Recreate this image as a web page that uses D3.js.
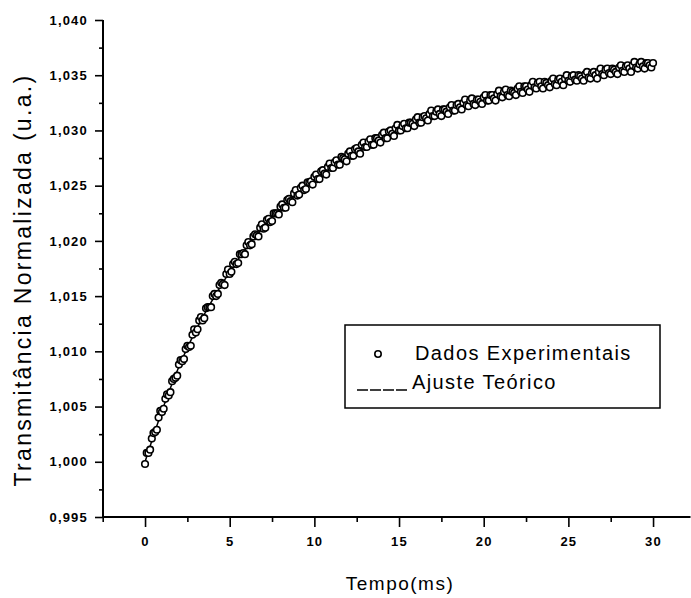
<!DOCTYPE html>
<html>
<head>
<meta charset="utf-8">
<script src="https://cdn.jsdelivr.net/npm/d3@7/dist/d3.min.js"></script>
<style>
  html, body { margin: 0; padding: 0; background: #fff; }
  svg { display: block; }
  text { fill: #000; }
</style>
</head>
<body>
<svg id="chart" width="691" height="598"></svg>
<script>
// ---- data ----
const timeMs = [
  0.0,0.1,0.2,0.3,0.4,0.5,0.6,0.7,0.8,0.9,
  1.0,1.1,1.2,1.3,1.4,1.5,1.6,1.7,1.8,1.9,
  2.0,2.1,2.2,2.3,2.4,2.5,2.6,2.7,2.8,2.9,
  3.0,3.1,3.2,3.3,3.4,3.5,3.6,3.7,3.8,3.9,
  4.0,4.1,4.2,4.3,4.4,4.5,4.6,4.7,4.8,4.9,
  5.0,5.1,5.2,5.3,5.4,5.5,5.6,5.7,5.8,5.9,
  6.0,6.1,6.2,6.3,6.4,6.5,6.6,6.7,6.8,6.9,
  7.0,7.1,7.2,7.3,7.4,7.5,7.6,7.7,7.8,7.9,
  8.0,8.1,8.2,8.3,8.4,8.5,8.6,8.7,8.8,8.9,
  9.0,9.1,9.2,9.3,9.4,9.5,9.6,9.7,9.8,9.9,
  10.0,10.1,10.2,10.3,10.4,10.5,10.6,10.7,10.8,10.9,
  11.0,11.1,11.2,11.3,11.4,11.5,11.6,11.7,11.8,11.9,
  12.0,12.1,12.2,12.3,12.4,12.5,12.6,12.7,12.8,12.9,
  13.0,13.1,13.2,13.3,13.4,13.5,13.6,13.7,13.8,13.9,
  14.0,14.1,14.2,14.3,14.4,14.5,14.6,14.7,14.8,14.9,
  15.0,15.1,15.2,15.3,15.4,15.5,15.6,15.7,15.8,15.9,
  16.0,16.1,16.2,16.3,16.4,16.5,16.6,16.7,16.8,16.9,
  17.0,17.1,17.2,17.3,17.4,17.5,17.6,17.7,17.8,17.9,
  18.0,18.1,18.2,18.3,18.4,18.5,18.6,18.7,18.8,18.9,
  19.0,19.1,19.2,19.3,19.4,19.5,19.6,19.7,19.8,19.9,
  20.0,20.1,20.2,20.3,20.4,20.5,20.6,20.7,20.8,20.9,
  21.0,21.1,21.2,21.3,21.4,21.5,21.6,21.7,21.8,21.9,
  22.0,22.1,22.2,22.3,22.4,22.5,22.6,22.7,22.8,22.9,
  23.0,23.1,23.2,23.3,23.4,23.5,23.6,23.7,23.8,23.9,
  24.0,24.1,24.2,24.3,24.4,24.5,24.6,24.7,24.8,24.9,
  25.0,25.1,25.2,25.3,25.4,25.5,25.6,25.7,25.8,25.9,
  26.0,26.1,26.2,26.3,26.4,26.5,26.6,26.7,26.8,26.9,
  27.0,27.1,27.2,27.3,27.4,27.5,27.6,27.7,27.8,27.9,
  28.0,28.1,28.2,28.3,28.4,28.5,28.6,28.7,28.8,28.9,
  29.0,29.1,29.2,29.3,29.4,29.5,29.6,29.7,29.8,29.9,
  30.0
];
const transmExp = [
  0.9998,1.0008,1.0008,1.0011,1.0021,1.0026,1.0027,1.0029,1.0040,1.0046,
  1.0045,1.0048,1.0057,1.0061,1.0060,1.0063,1.0073,1.0075,1.0076,1.0078,
  1.0088,1.0092,1.0091,1.0093,1.0102,1.0105,1.0104,1.0105,1.0115,1.0120,
  1.0117,1.0120,1.0128,1.0131,1.0128,1.0130,1.0139,1.0140,1.0140,1.0140,
  1.0150,1.0152,1.0150,1.0152,1.0160,1.0162,1.0161,1.0160,1.0170,1.0174,
  1.0170,1.0172,1.0179,1.0181,1.0179,1.0180,1.0188,1.0188,1.0189,1.0188,
  1.0196,1.0199,1.0196,1.0197,1.0204,1.0206,1.0205,1.0204,1.0212,1.0215,
  1.0211,1.0212,1.0219,1.0220,1.0217,1.0218,1.0225,1.0225,1.0225,1.0224,
  1.0231,1.0233,1.0230,1.0230,1.0237,1.0238,1.0236,1.0235,1.0243,1.0246,
  1.0241,1.0242,1.0248,1.0250,1.0246,1.0247,1.0253,1.0253,1.0254,1.0251,
  1.0258,1.0260,1.0256,1.0256,1.0263,1.0264,1.0261,1.0260,1.0267,1.0270,
  1.0266,1.0266,1.0271,1.0273,1.0269,1.0269,1.0276,1.0275,1.0274,1.0272,
  1.0279,1.0281,1.0277,1.0277,1.0283,1.0284,1.0281,1.0279,1.0287,1.0289,
  1.0285,1.0285,1.0290,1.0292,1.0287,1.0287,1.0293,1.0293,1.0291,1.0289,
  1.0296,1.0298,1.0293,1.0293,1.0299,1.0300,1.0297,1.0295,1.0302,1.0305,
  1.0300,1.0300,1.0304,1.0306,1.0302,1.0302,1.0307,1.0307,1.0306,1.0304,
  1.0310,1.0312,1.0307,1.0307,1.0312,1.0313,1.0311,1.0309,1.0315,1.0318,
  1.0313,1.0313,1.0317,1.0319,1.0315,1.0313,1.0319,1.0319,1.0317,1.0315,
  1.0321,1.0323,1.0318,1.0318,1.0323,1.0324,1.0321,1.0319,1.0325,1.0328,
  1.0323,1.0322,1.0327,1.0329,1.0324,1.0323,1.0328,1.0328,1.0326,1.0324,
  1.0330,1.0332,1.0327,1.0327,1.0332,1.0332,1.0329,1.0327,1.0333,1.0336,
  1.0331,1.0330,1.0335,1.0337,1.0332,1.0331,1.0336,1.0335,1.0334,1.0332,
  1.0338,1.0340,1.0335,1.0334,1.0340,1.0340,1.0337,1.0335,1.0341,1.0344,
  1.0339,1.0338,1.0343,1.0344,1.0340,1.0338,1.0344,1.0343,1.0341,1.0339,
  1.0345,1.0347,1.0342,1.0341,1.0346,1.0347,1.0344,1.0341,1.0347,1.0350,
  1.0345,1.0344,1.0349,1.0350,1.0346,1.0345,1.0350,1.0349,1.0347,1.0345,
  1.0351,1.0353,1.0348,1.0347,1.0352,1.0353,1.0350,1.0347,1.0353,1.0356,
  1.0351,1.0350,1.0355,1.0356,1.0352,1.0351,1.0356,1.0355,1.0353,1.0351,
  1.0357,1.0359,1.0354,1.0353,1.0358,1.0359,1.0356,1.0353,1.0359,1.0362,
  1.0357,1.0356,1.0360,1.0362,1.0358,1.0356,1.0361,1.0361,1.0359,1.0357,
  1.0361
];
const fitTime = [0,1,2,3,4,5,6,7,8,9,10,11,12,13,14,15,16,17,18,19,20,21,22,23,24,25,26,27,28,29,30];
const fitTransm = [
  1.0000,1.0046,1.0086,1.0119,1.0147,1.0172,1.0194,1.0213,1.0229,1.0243,1.0256,
  1.0267,1.0277,1.0286,1.0294,1.0301,1.0308,1.0314,1.0319,1.0324,1.0328,
  1.0332,1.0336,1.0340,1.0343,1.0346,1.0349,1.0352,1.0355,1.0358,1.0360
];
const xTicks = [0,5,10,15,20,25,30];
const xMinorTicks = [-2.5,2.5,7.5,12.5,17.5,22.5,27.5];
const yTicks = [0.995,1.000,1.005,1.010,1.015,1.020,1.025,1.030,1.035,1.040];
const yMinorTicks = [0.9975,1.0025,1.0075,1.0125,1.0175,1.0225,1.0275,1.0325,1.0375];
const xTitle = "Tempo(ms)";
const yTitle = "Transmitância Normalizada (u.a.)";
const legendLabels = ["Dados Experimentais", "Ajuste Teórico"];

// ---- drawing ----
const svg = d3.select("#chart");
const x = d3.scaleLinear().domain([-2.5, 32.2]).range([102.7, 690.3]);
const y = d3.scaleLinear().domain([0.995, 1.040]).range([517, 20]);
const tickFont = "'Liberation Sans', Arial, sans-serif";

// x axis
const gx = svg.append("g").attr("transform", "translate(0,517)");
gx.call(d3.axisBottom(x).tickValues(xTicks).tickSize(10).tickPadding(10).tickFormat(d3.format("d")));
gx.append("g").call(d3.axisBottom(x).tickValues(xMinorTicks).tickSize(5).tickFormat(""));
gx.selectAll(".domain").attr("stroke-width", 2).attr("d", `M${x.range()[0]},0H${x.range()[1]}`);
gx.selectAll("line").attr("stroke-width", 1.6);
gx.selectAll("text").attr("font-family", tickFont).attr("font-weight", "bold")
  .attr("font-size", 13).attr("letter-spacing", 1.2);

// y axis
const fmtY = v => d3.format(".3f")(v).replace(".", ",");
const gy = svg.append("g").attr("transform", "translate(103,0)");
gy.call(d3.axisLeft(y).tickValues(yTicks).tickSize(8).tickPadding(7).tickFormat(fmtY));
gy.append("g").call(d3.axisLeft(y).tickValues(yMinorTicks).tickSize(4).tickFormat(""));
gy.selectAll(".domain").attr("stroke-width", 2).attr("d", `M0,${y.range()[0]}V${y.range()[1]}`);
gy.selectAll("line").attr("stroke-width", 1.6);
gy.selectAll("text").attr("font-family", tickFont).attr("font-weight", "bold")
  .attr("font-size", 13).attr("letter-spacing", 1.2);

// axis titles
svg.append("text").attr("x", 400).attr("y", 590).attr("text-anchor", "middle")
  .attr("font-family", tickFont).attr("font-size", 19).attr("letter-spacing", 1.5)
  .text(xTitle);
svg.append("text").attr("transform", "translate(31,280) rotate(-90)")
  .attr("text-anchor", "middle").attr("font-family", tickFont)
  .attr("font-size", 23).attr("letter-spacing", 2.3).text(yTitle);

// fit line
const line = d3.line().x((d, i) => x(fitTime[i])).y(d => y(d)).curve(d3.curveMonotoneX);
svg.append("path").datum(fitTransm).attr("d", line)
  .attr("fill", "none").attr("stroke", "#000").attr("stroke-width", 1.5);

// data markers
svg.append("g").selectAll("circle").data(transmExp).join("circle")
  .attr("cx", (d, i) => x(timeMs[i])).attr("cy", d => y(d)).attr("r", 3.3)
  .attr("fill", "#fff").attr("stroke", "#000").attr("stroke-width", 1.6);

// legend
const lg = svg.append("g");
lg.append("rect").attr("x", 345).attr("y", 325).attr("width", 315).attr("height", 83)
  .attr("fill", "#fff").attr("stroke", "#000").attr("stroke-width", 1.5);
lg.append("circle").attr("cx", 378).attr("cy", 354).attr("r", 3.2)
  .attr("fill", "#fff").attr("stroke", "#000").attr("stroke-width", 1.6);
lg.append("text").attr("x", 415).attr("y", 360).attr("font-family", tickFont)
  .attr("font-size", 20).attr("letter-spacing", 1.4).text(legendLabels[0]);
lg.append("line").attr("x1", 357).attr("x2", 407).attr("y1", 390).attr("y2", 390)
  .attr("stroke", "#000").attr("stroke-width", 1.5).attr("stroke-dasharray", "11,2");
lg.append("text").attr("x", 412).attr("y", 389).attr("font-family", tickFont)
  .attr("font-size", 20).attr("letter-spacing", 1.4).text(legendLabels[1]);
</script>
</body>
</html>
